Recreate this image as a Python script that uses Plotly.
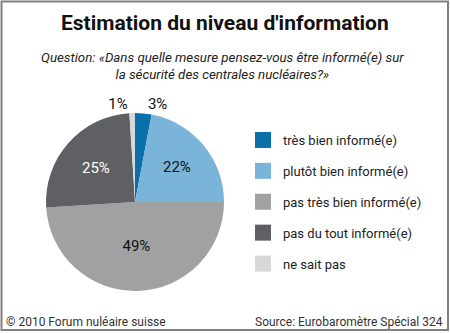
import plotly.graph_objects as go

categories = ["très bien informé(e)", "plutôt bien informé(e)", "pas très bien informé(e)",
              "pas du tout informé(e)", "ne sait pas"]
values = [3, 22, 49, 25, 1]
colors = ["#0b70a9", "#7ab4d8", "#a0a1a3", "#5f6063", "#d7d8da"]
text_colors = ["#111111", "#111111", "#111111", "#ffffff", "#111111"]
positions = ["outside", "inside", "inside", "inside", "outside"]

W, H = 450, 333
cx, cy, r = 135, 202, 89

fig = go.Figure()
fig.add_trace(go.Pie(
    labels=categories, values=values, sort=False, direction="clockwise", rotation=0,
    marker=dict(colors=colors, line=dict(width=0)),
    texttemplate="%{value}%", textposition=positions,
    textfont=dict(family="Roboto", size=15, color=text_colors),
    insidetextorientation="horizontal",
    showlegend=False, hoverinfo="skip",
    domain=dict(x=[(cx - r) / W, (cx + r) / W], y=[(H - cy - r) / H, (H - cy + r) / H]),
))

for c, col in zip(categories, colors):
    fig.add_trace(go.Scatter(
        x=[None], y=[None], mode="markers", name=c, legendgroup=c,
        marker=dict(symbol="square", size=18, color=col),
        showlegend=True,
    ))

fig.update_layout(
    width=W, height=H, margin=dict(l=0, r=0, t=0, b=0),
    paper_bgcolor="white", plot_bgcolor="white",
    xaxis=dict(visible=False), yaxis=dict(visible=False),
    showlegend=True,
    legend=dict(x=243 / W, y=1 - 125 / H, xanchor="left", yanchor="top",
                font=dict(family="Roboto", size=13, color="#222222"),
                tracegroupgap=11, itemwidth=30, bgcolor="rgba(0,0,0,0)"),
    font=dict(family="Roboto"),
)

def note(text, x, y, size, xanchor="center", color="#222222", align="center"):
    fig.add_annotation(text=text, x=x / W, y=1 - y / H, xref="paper", yref="paper",
                       xanchor=xanchor, yanchor="middle", showarrow=False, align=align,
                       font=dict(family="Roboto", size=size, color=color))

note("<b>Estimation du niveau d'information</b>", 225, 23, 21, color="#111111")
note("<i>Question: «Dans quelle mesure pensez-vous être informé(e) sur<br>la sécurité des centrales nucléaires?»</i>",
     222, 66, 13.3)
note("© 2010 Forum nuléaire suisse", 4, 322, 12, xanchor="left", color="#333333")
note("Source: Eurobaromètre Spécial 324", 445, 322, 12, xanchor="right", color="#333333")

fig.add_shape(type="rect", xref="paper", yref="paper", x0=1.5 / W, x1=448 / W, y0=1 - 330 / H, y1=1 - 1.5 / H,
              line=dict(color="#808080", width=2))

fig.write_html("out.html")
